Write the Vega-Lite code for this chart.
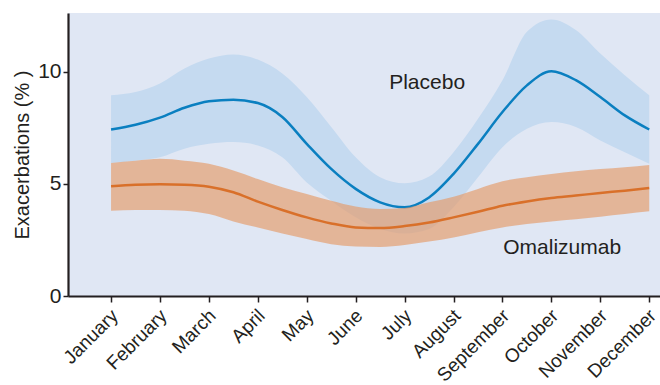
{
  "$schema": "https://vega.github.io/schema/vega-lite/v6.json",
  "width": 592,
  "height": 283,
  "autosize": {"type": "none"},
  "padding": {"left": 68, "top": 13, "right": 0, "bottom": 89},
  "background": "white",
  "config": {
    "view": {"fill": "#e0e7f4", "stroke": null},
    "font": "Liberation Sans",
    "axis": {"grid": false, "domainColor": "#231f20", "domainWidth": 2.2, "tickColor": "#231f20", "tickWidth": 1.5, "labelColor": "#231f20", "titleColor": "#231f20", "labelFont": "Liberation Sans", "titleFont": "Liberation Sans", "titleFontWeight": "normal"}
  },
  "datasets": {
    "bands": [
      {"m":1,"s":"Placebo","mean":7.43,"lo":5.94,"hi":8.96},
      {"m":1.5,"s":"Placebo","mean":7.64,"lo":6.04,"hi":9.10},
      {"m":2,"s":"Placebo","mean":7.96,"lo":6.19,"hi":9.48},
      {"m":2.5,"s":"Placebo","mean":8.40,"lo":6.57,"hi":10.15},
      {"m":3,"s":"Placebo","mean":8.69,"lo":6.79,"hi":10.60},
      {"m":3.5,"s":"Placebo","mean":8.76,"lo":6.87,"hi":10.78},
      {"m":4,"s":"Placebo","mean":8.61,"lo":6.72,"hi":10.55},
      {"m":4.5,"s":"Placebo","mean":7.99,"lo":6.19,"hi":9.93},
      {"m":5,"s":"Placebo","mean":6.79,"lo":5.07,"hi":8.88},
      {"m":5.5,"s":"Placebo","mean":5.67,"lo":4.25,"hi":7.54},
      {"m":6,"s":"Placebo","mean":4.78,"lo":3.51,"hi":6.19},
      {"m":6.5,"s":"Placebo","mean":4.18,"lo":2.99,"hi":5.30},
      {"m":7,"s":"Placebo","mean":3.96,"lo":2.79,"hi":5.03},
      {"m":7.5,"s":"Placebo","mean":4.40,"lo":2.99,"hi":5.33},
      {"m":8,"s":"Placebo","mean":5.45,"lo":3.96,"hi":6.42},
      {"m":8.5,"s":"Placebo","mean":6.79,"lo":5.30,"hi":7.91},
      {"m":9,"s":"Placebo","mean":8.21,"lo":6.64,"hi":9.63},
      {"m":9.5,"s":"Placebo","mean":9.40,"lo":7.46,"hi":11.79},
      {"m":10,"s":"Placebo","mean":10.03,"lo":7.76,"hi":12.34},
      {"m":10.5,"s":"Placebo","mean":9.63,"lo":7.54,"hi":11.87},
      {"m":11,"s":"Placebo","mean":8.88,"lo":6.94,"hi":10.82},
      {"m":11.5,"s":"Placebo","mean":8.06,"lo":6.42,"hi":9.85},
      {"m":12,"s":"Placebo","mean":7.43,"lo":5.90,"hi":8.96},
      {"m":1,"s":"Omalizumab","mean":4.90,"lo":3.81,"hi":5.94},
      {"m":1.5,"s":"Omalizumab","mean":4.97,"lo":3.84,"hi":6.04},
      {"m":2,"s":"Omalizumab","mean":4.99,"lo":3.84,"hi":6.12},
      {"m":2.5,"s":"Omalizumab","mean":4.97,"lo":3.81,"hi":6.04},
      {"m":3,"s":"Omalizumab","mean":4.88,"lo":3.66,"hi":5.90},
      {"m":3.5,"s":"Omalizumab","mean":4.63,"lo":3.33,"hi":5.60},
      {"m":4,"s":"Omalizumab","mean":4.21,"lo":3.06,"hi":5.22},
      {"m":4.5,"s":"Omalizumab","mean":3.84,"lo":2.79,"hi":4.85},
      {"m":5,"s":"Omalizumab","mean":3.51,"lo":2.54,"hi":4.55},
      {"m":5.5,"s":"Omalizumab","mean":3.24,"lo":2.31,"hi":4.25},
      {"m":6,"s":"Omalizumab","mean":3.06,"lo":2.21,"hi":3.99},
      {"m":6.5,"s":"Omalizumab","mean":3.03,"lo":2.19,"hi":3.88},
      {"m":7,"s":"Omalizumab","mean":3.12,"lo":2.28,"hi":3.93},
      {"m":7.5,"s":"Omalizumab","mean":3.28,"lo":2.43,"hi":4.18},
      {"m":8,"s":"Omalizumab","mean":3.51,"lo":2.61,"hi":4.43},
      {"m":8.5,"s":"Omalizumab","mean":3.76,"lo":2.84,"hi":4.78},
      {"m":9,"s":"Omalizumab","mean":4.03,"lo":3.06,"hi":5.12},
      {"m":9.5,"s":"Omalizumab","mean":4.22,"lo":3.21,"hi":5.30},
      {"m":10,"s":"Omalizumab","mean":4.37,"lo":3.33,"hi":5.45},
      {"m":10.5,"s":"Omalizumab","mean":4.48,"lo":3.43,"hi":5.57},
      {"m":11,"s":"Omalizumab","mean":4.60,"lo":3.54,"hi":5.67},
      {"m":11.5,"s":"Omalizumab","mean":4.70,"lo":3.66,"hi":5.75},
      {"m":12,"s":"Omalizumab","mean":4.82,"lo":3.78,"hi":5.85}
    ],
    "labels": [
      {"m":7.46,"v":9.5,"t":"Placebo"},
      {"m":10.22,"v":2.14,"t":"Omalizumab"}
    ]
  },
  "encoding": {
    "x": {
      "field": "m", "type": "quantitative",
      "scale": {"domain": [0.12, 12.22], "nice": false, "zero": false},
      "axis": {
        "title": null,
        "values": [1,2,3,4,5,6,7,8,9,10,11,12],
        "labelExpr": "['January','February','March','April','May','June','July','August','September','October','November','December'][datum.value-1]",
        "labelAngle": -45, "labelAlign": "right", "labelBaseline": "top",
        "labelFontSize": 19, "tickSize": 6, "labelPadding": 4, "labelOffset": -3, "labelBound": false, "labelOverlap": false, "labelFlush": false
      }
    }
  },
  "layer": [
    {
      "data": {"name": "bands"},
      "transform": [{"filter": "datum.s == 'Placebo'"}],
      "mark": {"type": "area", "interpolate": "monotone", "color": "#c5daf0"},
      "encoding": {
        "y": {"field": "lo", "type": "quantitative",
          "scale": {"domain": [0, 12.63], "nice": false},
          "axis": {"title": "Exacerbations (% )", "values": [0,5,10], "labelFontSize": 21, "titleFontSize": 20, "tickSize": 5, "labelPadding": 2, "titlePadding": 5}},
        "y2": {"field": "hi"}
      }
    },
    {
      "data": {"name": "bands"},
      "transform": [{"filter": "datum.s == 'Placebo'"}],
      "mark": {"type": "line", "interpolate": "monotone", "color": "#0a7fc0", "strokeWidth": 2.5},
      "encoding": {"y": {"field": "mean", "type": "quantitative"}}
    },
    {
      "data": {"name": "bands"},
      "transform": [{"filter": "datum.s == 'Omalizumab'"}],
      "mark": {"type": "area", "interpolate": "monotone", "color": "#e59a67", "opacity": 0.65},
      "encoding": {
        "y": {"field": "lo", "type": "quantitative"},
        "y2": {"field": "hi"}
      }
    },
    {
      "data": {"name": "bands"},
      "transform": [{"filter": "datum.s == 'Omalizumab'"}],
      "mark": {"type": "line", "interpolate": "monotone", "color": "#d9702a", "strokeWidth": 2.5},
      "encoding": {"y": {"field": "mean", "type": "quantitative"}}
    },
    {
      "data": {"name": "labels"},
      "mark": {"type": "text", "fontSize": 21, "color": "#231f20", "align": "center", "baseline": "middle", "font": "Liberation Sans"},
      "encoding": {
        "y": {"field": "v", "type": "quantitative"},
        "text": {"field": "t"}
      }
    }
  ]
}
